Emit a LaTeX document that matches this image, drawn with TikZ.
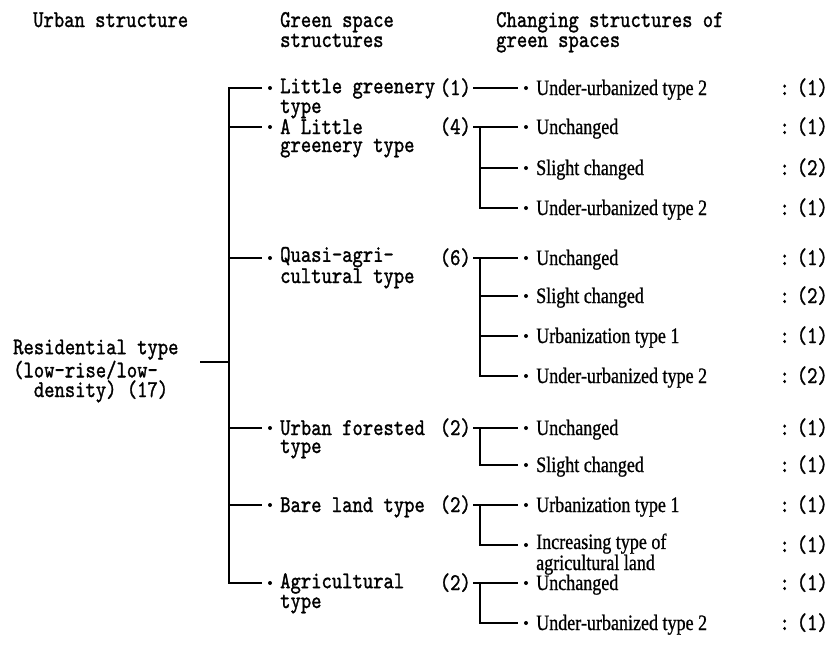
\documentclass[tikz,border=0pt]{standalone}
\usepackage{fontspec}
\newfontfamily\monofont[FakeStretch=0.82,FakeBold=1.2]{lmmono10-regular.otf}
\newfontfamily\propfont[FakeStretch=0.82,FakeBold=0.8]{Liberation Serif}
\tikzset{
  mono/.style={font=\monofont\fontsize{24}{18}\selectfont, inner sep=0pt, align=left, anchor=base west},
  head/.style={mono, font=\monofont\fontsize{24}{20}\selectfont},
  prop/.style={font=\propfont\fontsize{22}{18}\selectfont, inner sep=0pt, align=left, anchor=base west},
  cnt/.style={font=\monofont\fontsize{24}{18}\selectfont, inner sep=0pt, inner xsep=2pt, anchor=base east},
  link/.style={line width=1.4pt},
  dot/.style={circle, fill, inner sep=0pt, minimum size=4pt},
}
\begin{document}
\begin{tikzpicture}[x=1pt,y=-1pt]
\useasboundingbox (0,0) rectangle (832,646);

% column headings (a multi-line node sits on the baseline of its last line)
\node[head] (h1) at (33,27) {Urban structure};
\node[head] (h2) at (280,47) {Green space\\structures};
\node[head] (h3) at (496,47) {Changing structures of\\green spaces};

% urban structure
\node[mono, font=\monofont\fontsize{24}{17}\selectfont] (root) at (13,397)
  {Residential type\\(low-rise/low-\\\phantom{xx}density) (17)};
\coordinate (rootend) at (200,362);
\coordinate (bus) at (229,362);
\draw[link] (rootend) -- (bus);

% green space structures; \s drops the node to its last baseline
\foreach \n/\y/\s/\t/\c in {
  A/88/18/{Little greenery\\type}/(1),
  B/127/18/{A Little\\greenery type}/(4),
  C/258/18/{Quasi-agri-\\cultural type}/(6),
  D/428/18/{Urban forested\\type}/(2),
  E/505/0/{Bare land type}/(2),
  F/583/18/{Agricultural\\type}/(2)}{
  \coordinate (k\n) at (229,\y);
  \node[dot] (d\n) at (270,\y) {};
  \node[mono] (g\n) at (280,\y+7+\s) {\t};
  \node[cnt] (c\n) at (473,\y+7) {\c};
}
\draw[link] ([xshift=-8pt]dA.center) -- (kA) -- (kF) -- ([xshift=-8pt]dF.center);
\foreach \n in {B,C,D,E}{
  \draw[link] (k\n) -- ([xshift=-8pt]d\n.center);
}

% changing structures
\foreach \n/\y/\s/\t/\v in {
  A1/88/0/{Under-urbanized type 2}/(1),
  B1/127/0/{Unchanged}/(1),
  B2/168/0/{Slight changed}/(2),
  B3/208/0/{Under-urbanized type 2}/(1),
  C1/258/0/{Unchanged}/(1),
  C2/296/0/{Slight changed}/(2),
  C3/336/0/{Urbanization type 1}/(1),
  C4/376/0/{Under-urbanized type 2}/(2),
  D1/428/0/{Unchanged}/(1),
  D2/465/0/{Slight changed}/(1),
  E1/505/0/{Urbanization type 1}/(1),
  E2/545/18/{Increasing type of\\agricultural land}/(1),
  F1/583/0/{Unchanged}/(1),
  F2/623/0/{Under-urbanized type 2}/(1)}{
  \coordinate (q\n) at (480,\y);
  \node[dot] (e\n) at (526,\y) {};
  \node[prop] (t\n) at (536,\y+7+\s) {\t};
  \node[cnt, inner xsep=0pt] (v\n) at (828,\y+7) {:\hspace{7pt}\v};
}
\draw[link] (cA.east |- eA1) -- ([xshift=-8pt]eA1.center);
\draw[link] (cB.east |- eB1) -- ([xshift=-8pt]eB1.center);
\draw[link] (qB1) -- (qB3) -- ([xshift=-8pt]eB3.center);
\draw[link] (qB2) -- ([xshift=-8pt]eB2.center);
\draw[link] (cC.east |- eC1) -- ([xshift=-8pt]eC1.center);
\draw[link] (qC1) -- (qC4) -- ([xshift=-8pt]eC4.center);
\draw[link] (qC2) -- ([xshift=-8pt]eC2.center);
\draw[link] (qC3) -- ([xshift=-8pt]eC3.center);
\draw[link] (cD.east |- eD1) -- ([xshift=-8pt]eD1.center);
\draw[link] (qD1) -- (qD2) -- ([xshift=-8pt]eD2.center);
\draw[link] (cE.east |- eE1) -- ([xshift=-8pt]eE1.center);
\draw[link] (qE1) -- (qE2) -- ([xshift=-8pt]eE2.center);
\draw[link] (cF.east |- eF1) -- ([xshift=-8pt]eF1.center);
\draw[link] (qF1) -- (qF2) -- ([xshift=-8pt]eF2.center);
\end{tikzpicture}
\end{document}
